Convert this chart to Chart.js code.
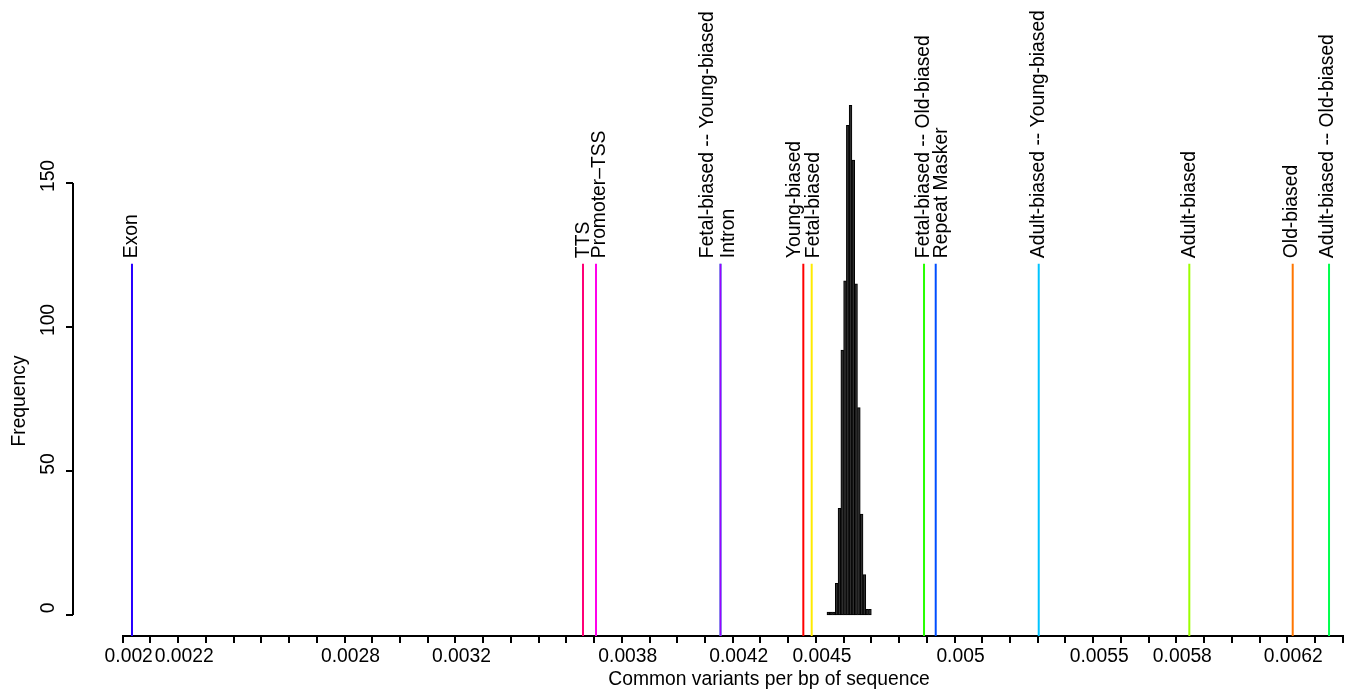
<!DOCTYPE html>
<html>
<head>
<meta charset="utf-8">
<script src="https://cdn.jsdelivr.net/npm/chart.js@4.4.1/dist/chart.umd.min.js"></script>
<style>
  html, body { margin: 0; padding: 0; background: #fff; }
  canvas { display: block; }
</style>
</head>
<body>
<canvas id="c" width="1354" height="696"></canvas>
<script>
// ---------------- data ----------------
const categories = [
  'Exon', 'TTS', 'Promoter\u2013TSS', 'Fetal-biased -- Young-biased', 'Intron',
  'Young-biased', 'Fetal-biased', 'Fetal-biased -- Old-biased', 'Repeat Masker',
  'Adult-biased -- Young-biased', 'Adult-biased', 'Old-biased', 'Adult-biased -- Old-biased'
];
const categoryValues = [
  0.0020335, 0.0036601, 0.003707, 0.004156, 0.004156,
  0.0044547, 0.0044849, 0.004890, 0.0049322,
  0.0053037, 0.0058468, 0.0062197, 0.0063507
];
const binCenters = [
  0.004545, 0.004555, 0.004565, 0.004575, 0.004585, 0.004595, 0.004605, 0.004615,
  0.004625, 0.004635, 0.004645, 0.004655, 0.004665, 0.004675, 0.004685, 0.004695
];
const binCounts = [1, 1, 1, 11, 37, 92, 116, 170, 177, 158, 115, 72, 35, 14, 2, 2];
const xTickLabels = ['0.002', '0.0022', '0.0028', '0.0032', '0.0038', '0.0042', '0.0045', '0.005', '0.0055', '0.0058', '0.0062'];
const yTicks = [0, 50, 100, 150];
const xTitle = 'Common variants per bp of sequence';
const yTitle = 'Frequency';

// ---------------- style ----------------
const lineColors = ['#2700FF', '#FF0076', '#FF00EB', '#00FFC4', '#9D00FF', '#FF0000', '#FFEB00',
                    '#27FF00', '#004EFF', '#00C4FF', '#9DFF00', '#FF7600', '#00FF4E'];
const labelDx = [-1.7, -0.5, 2.3, -14.5, 6.7, -9.8, 0.8, -1.5, 4.1, -1.9, -1.0, -2.2, -2.5]; // px
const LINE_TOP = 122;       // frequency level where marker lines end
const Y_MIN = -7.2917, Y_MAX = 213.54;
const FONT = '"Liberation Sans", Arial, Helvetica, sans-serif';
const FS = 19.3;
const CAP = FS * 0.716;

const datasets = [{
  type: 'bar',
  data: binCenters.map((x, i) => ({ x: x, y: binCounts[i] })),
  backgroundColor: '#2e2e2e',
  borderColor: '#000',
  borderWidth: 1,
  borderSkipped: false,
  barPercentage: 1,
  categoryPercentage: 1,
  order: 50
}];
categories.forEach((name, i) => {
  datasets.push({
    type: 'line',
    label: name,
    data: [{ x: categoryValues[i], y: Y_MIN }, { x: categoryValues[i], y: LINE_TOP }],
    borderColor: lineColors[i],
    borderWidth: 2,
    pointRadius: 0,
    fill: false,
    order: name === 'Fetal-biased -- Young-biased' ? 20 : 10
  });
});

const annot = {
  id: 'annot',
  afterDraw(chart) {
    const ctx = chart.ctx, xs = chart.scales.x, ys = chart.scales.y;
    ctx.save();
    ctx.fillStyle = '#000';
    ctx.strokeStyle = '#000';
    ctx.font = FS + 'px ' + FONT;
    // y axis (drawn offset to the left of the plot, R style)
    const ax = 73;
    ctx.lineWidth = 2;
    ctx.beginPath();
    ctx.moveTo(ax, ys.getPixelForValue(yTicks[0]));
    ctx.lineTo(ax, ys.getPixelForValue(yTicks[yTicks.length - 1]));
    ctx.stroke();
    yTicks.forEach(t => {
      const py = Math.round(ys.getPixelForValue(t));
      ctx.beginPath(); ctx.moveTo(ax, py); ctx.lineTo(ax - 7, py); ctx.stroke();
      ctx.save();
      ctx.translate(53.5, py - 7);
      ctx.rotate(-Math.PI / 2);
      ctx.textAlign = 'center'; ctx.textBaseline = 'alphabetic';
      ctx.fillText(String(t), 0, 0);
      ctx.restore();
    });
    // y title
    ctx.save();
    ctx.translate(25, 401);
    ctx.rotate(-Math.PI / 2);
    ctx.textAlign = 'center'; ctx.textBaseline = 'alphabetic';
    ctx.fillText(yTitle, 0, 0);
    ctx.restore();
    // x title
    ctx.textAlign = 'center'; ctx.textBaseline = 'alphabetic';
    ctx.fillText(xTitle, 769, 685);
    // marker labels
    const ly = ys.getPixelForValue(LINE_TOP) - 5.5;
    categories.forEach((name, i) => {
      const px = xs.getPixelForValue(categoryValues[i]) + labelDx[i] + CAP / 2;
      ctx.save();
      ctx.translate(px, ly);
      ctx.rotate(-Math.PI / 2);
      ctx.textAlign = 'left'; ctx.textBaseline = 'alphabetic';
      ctx.fillText(name, 0, 0);
      ctx.restore();
    });
    ctx.restore();
  }
};

new Chart(document.getElementById('c'), {
  type: 'bar',
  data: { datasets: datasets },
  options: {
    responsive: false,
    animation: false,
    devicePixelRatio: 1,
    layout: { padding: { left: 122.7, right: 11.3, top: 0, bottom: 0 } },
    plugins: { legend: { display: false }, tooltip: { enabled: false } },
    scales: {
      x: {
        type: 'linear',
        min: 0.002, max: 0.0064,
        bounds: 'data',
        offset: false,
        ticks: {
          stepSize: 0.0001, maxTicksLimit: 100, autoSkip: false,
          maxRotation: 0, minRotation: 0, labelOffset: 6, padding: 2,
          color: '#000', font: { family: FONT, size: FS },
          callback: (v) => {
            const hit = xTickLabels.find(s => Math.abs(parseFloat(s) - v) < 1e-9);
            return hit === undefined ? '' : hit;
          }
        },
        grid: { display: true, offset: false, drawOnChartArea: false, drawTicks: true, tickLength: 7, color: '#000', lineWidth: 2 },
        border: { display: true, color: '#000', width: 2 },
        afterFit: (s) => { s.height = 60; }
      },
      y: { type: 'linear', display: false, min: Y_MIN, max: Y_MAX, bounds: 'data' }
    }
  },
  plugins: [annot]
});
</script>
</body>
</html>
